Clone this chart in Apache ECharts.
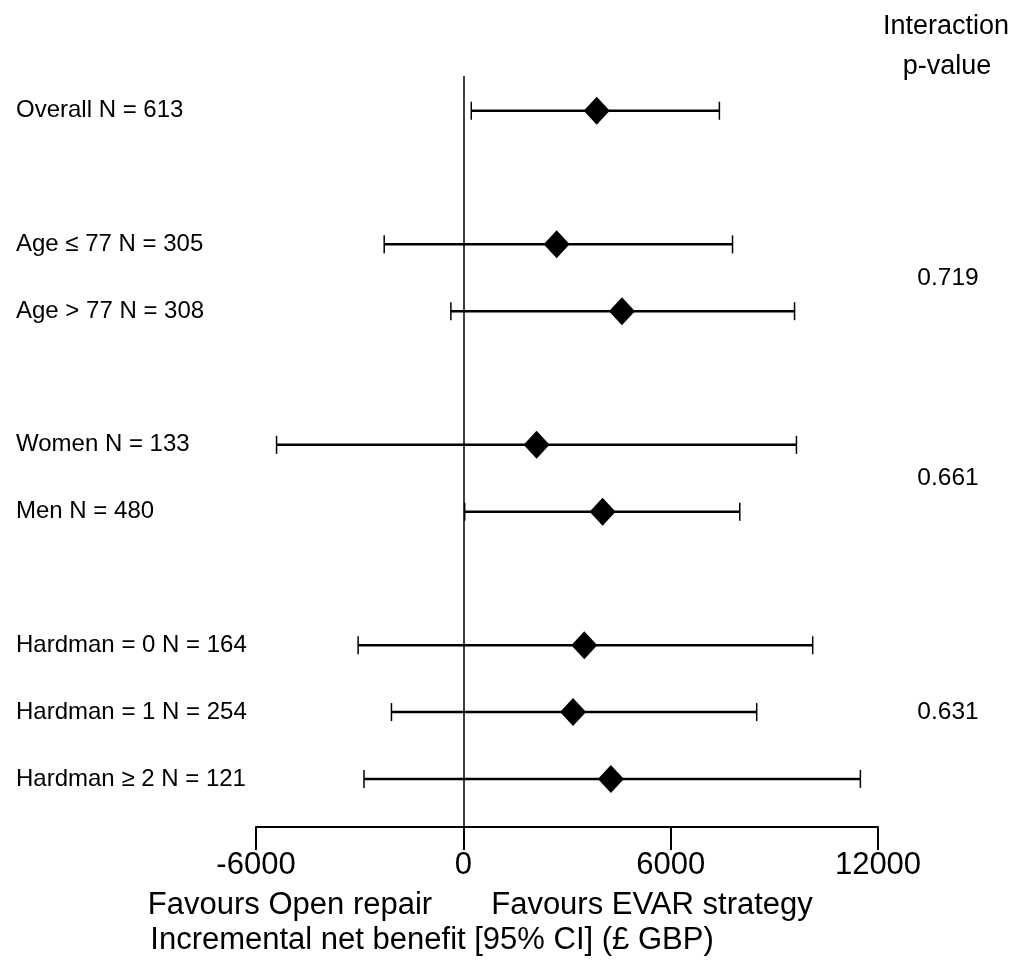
<!DOCTYPE html>
<html>
<head>
<meta charset="utf-8">
<script src="https://cdn.jsdelivr.net/npm/echarts@6/dist/echarts.min.js"></script>
<style>html,body{margin:0;padding:0;background:#fff}#c{width:1024px;height:963px}</style>
</head>
<body>
<div id="c"></div>
<script>
const rowPos = [0, 2, 3, 5, 6, 8, 9, 10];
const rowLabels = ['Overall N = 613', 'Age \u2264 77 N = 305', 'Age > 77 N = 308', 'Women N = 133', 'Men N = 480', 'Hardman = 0 N = 164', 'Hardman = 1 N = 254', 'Hardman \u2265 2 N = 121'];
const estimate = [3860, 2700, 4590, 2120, 4030, 3500, 3175, 4270];
const lower = [230, -2290, -360, -5405, 40, -3045, -2080, -2875];
const upper = [7410, 7790, 9585, 9640, 8000, 10110, 8490, 11490];
const pValues = ['0.719', '0.661', '0.631'];
const pPos = [2.5, 5.5, 9];
const xTicks = [-6000, 0, 6000, 12000];

const FONT = '"Liberation Sans", Arial, sans-serif';
const chart = echarts.init(document.getElementById('c'), null, {renderer: 'canvas'});

const labelMap = {};
rowPos.forEach((p, i) => labelMap[p] = rowLabels[i]);
const pMap = {};
pPos.forEach((p, i) => pMap[p] = pValues[i]);

const barData = rowPos.map((p, i) => [lower[i], upper[i], p]);
const pointData = rowPos.map((p, i) => [estimate[i], p]);

chart.setOption({
  animation: false,
  backgroundColor: '#fff',
  grid: {left: 256, right: 146, top: 76, bottom: 136},
  xAxis: {
    type: 'value', min: xTicks[0], max: xTicks[xTicks.length - 1], interval: 6000,
    position: 'bottom',
    axisLine: {show: true, onZero: false, lineStyle: {color: '#000', width: 2}},
    axisTick: {show: true, length: 23, lineStyle: {color: '#000', width: 2}},
    axisLabel: {color: '#000', fontSize: 31, fontFamily: FONT, margin: 23, formatter: v => String(v)},
    splitLine: {show: false}
  },
  yAxis: [{
    type: 'value', min: -0.52, max: 10.72, inverse: true,
    axisLine: {show: false}, axisTick: {show: false}, splitLine: {show: false},
    axisLabel: {
      customValues: rowPos,
      formatter: v => labelMap[v] || '',
      align: 'left', margin: 240, color: '#000', fontSize: 24, fontFamily: FONT
    }
  }, {
    type: 'value', min: -0.52, max: 10.72, inverse: true, position: 'right',
    axisLine: {show: false}, axisTick: {show: false}, splitLine: {show: false},
    axisLabel: {
      customValues: pPos,
      formatter: v => pMap[v] || '',
      align: 'center', margin: 70, color: '#000', fontSize: 24.5, fontFamily: FONT
    }
  }],
  series: [{
    type: 'custom',
    data: barData,
    encode: {x: [0, 1], y: 2},
    renderItem: function (params, api) {
      const a = api.coord([api.value(0), api.value(2)]);
      const b = api.coord([api.value(1), api.value(2)]);
      const h = 9;
      const st = {stroke: '#000', lineWidth: 2.5};
      return {type: 'group', children: [
        {type: 'line', shape: {x1: a[0], y1: a[1], x2: b[0], y2: b[1]}, style: st},
        {type: 'line', shape: {x1: a[0], y1: a[1] - h, x2: a[0], y2: a[1] + h}, style: {stroke: '#000', lineWidth: 1.5}},
        {type: 'line', shape: {x1: b[0], y1: b[1] - h, x2: b[0], y2: b[1] + h}, style: {stroke: '#000', lineWidth: 1.5}}
      ]};
    },
    z: 2,
    markLine: {
      silent: true, symbol: 'none', label: {show: false},
      lineStyle: {color: '#000', width: 1.5, type: 'solid'},
      data: [{xAxis: 0}]
    }
  }, {
    type: 'scatter',
    data: pointData,
    symbol: 'diamond',
    symbolSize: [26, 28],
    itemStyle: {color: '#000', opacity: 1},
    z: 3
  }],
  graphic: [
    {type: 'text', x: 946, y: 27, style: {text: 'Interaction', fontSize: 27, fontFamily: FONT, fill: '#000', align: 'center', verticalAlign: 'middle'}},
    {type: 'text', x: 947, y: 67, style: {text: 'p-value', fontSize: 27, fontFamily: FONT, fill: '#000', align: 'center', verticalAlign: 'middle'}},
    {type: 'text', x: 290, y: 905, style: {text: 'Favours Open repair', fontSize: 31, fontFamily: FONT, fill: '#000', align: 'center', verticalAlign: 'middle'}},
    {type: 'text', x: 652, y: 905, style: {text: 'Favours EVAR strategy', fontSize: 31, fontFamily: FONT, fill: '#000', align: 'center', verticalAlign: 'middle'}},
    {type: 'text', x: 432, y: 940, style: {text: 'Incremental net benefit [95% CI] (\u00a3 GBP)', fontSize: 31, fontFamily: FONT, fill: '#000', align: 'center', verticalAlign: 'middle'}}
  ]
});
</script>
</body>
</html>
